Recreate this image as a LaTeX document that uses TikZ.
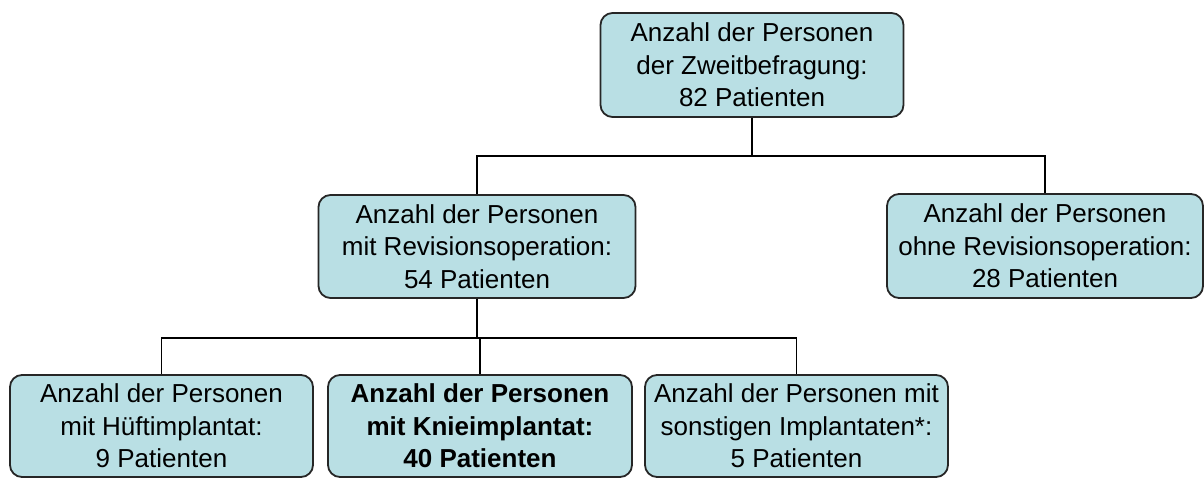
\documentclass[tikz,border=0pt]{standalone}
\usepackage{fontspec}
\setmainfont{Liberation Sans}
\usepackage{tikz}
\usepackage[dvipsnames]{xcolor}
\definecolor{boxfill}{RGB}{185,223,228}

\tikzset{
    infobox/.style={rectangle, rounded corners=12pt, draw=black!85, line width=1.8pt,
        fill=boxfill, minimum height=104pt, inner sep=0pt, align=center,
        font=\fontsize{26}{32.5}\selectfont},
    link/.style={line width=1.6pt, black}
}

\begin{document}
\begin{tikzpicture}[x=1pt, y=-1pt]
    \useasboundingbox (0,0) rectangle (1204,478);

    % Draw the boxes
    \node[infobox, minimum width=303pt] (Gesamt) at (752,65)
        {Anzahl der Personen\\der Zweitbefragung:\\82 Patienten};
    \node[infobox, minimum width=317pt, minimum height=103pt] (Rev) at (477,246.5)
        {Anzahl der Personen\\mit Revisionsoperation:\\54 Patienten};
    \node[infobox, minimum width=316pt] (Ohne) at (1045,246)
        {Anzahl der Personen\\ohne Revisionsoperation:\\28 Patienten};
    \node[infobox, minimum width=303pt, minimum height=102pt] (Hueft) at (161.5,426)
        {Anzahl der Personen\\mit Hüftimplantat:\\9 Patienten};
    \node[infobox, minimum width=304pt, minimum height=102pt, font=\fontsize{26}{32.5}\selectfont\bfseries] (Knie) at (480,426)
        {Anzahl der Personen\\mit Knieimplantat:\\40 Patienten};
    \node[infobox, minimum width=303pt, minimum height=102pt] (Sonst) at (796.5,426)
        {Anzahl der Personen mit\\sonstigen Implantaten*:\\5 Patienten};

    % Connect the boxes
    \foreach \n in {Rev, Ohne}
        \draw[link] (Gesamt.south) -- ++(0,38) -| (\n.north);
    \foreach \n in {Hueft, Knie, Sonst}
        \draw[link] (Rev.south) -- ++(0,39) -| (\n.north);
\end{tikzpicture}
\end{document}
